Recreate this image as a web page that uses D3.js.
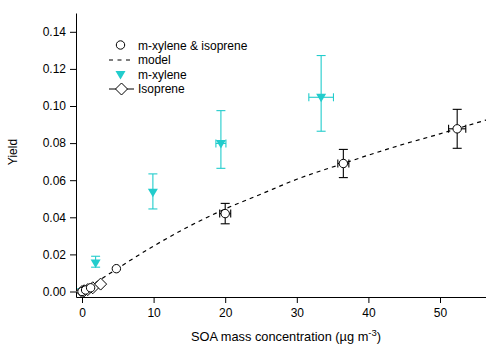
<!DOCTYPE html>
<html><head><meta charset="utf-8">
<script src="https://cdn.jsdelivr.net/npm/d3@7"></script>
<style>body{margin:0;background:#fff}svg{display:block;font-family:"Liberation Sans",Arial,sans-serif}</style>
</head><body>
<svg id="c" width="486" height="346"></svg>
<script>
// combined m-xylene & isoprene
const mixX = [0, 0.5, 1.2, 4.8, 20.0, 36.5, 52.4];
const mixY = [0, 0.0008, 0.002, 0.0123, 0.042, 0.069, 0.0877];
const mixYErr = [0, 0, 0, 0, 0.0055, 0.0076, 0.0105];
const mixXErr = [0, 0, 0, 0, 0.77, 0.77, 1.2];
// m-xylene
const mxX = [0, 1.9, 9.9, 19.4, 33.4];
const mxY = [0, 0.0153, 0.0535, 0.0798, 0.1047];
const mxYLo = [0, 0.0131, 0.0445, 0.0664, 0.0864];
const mxYHi = [0, 0.019, 0.0634, 0.0975, 0.1272];
const mxXErr = [0, 0, 0, 0.7, 1.72];
// isoprene
const isoX = [0, 0.3, 0.8, 1.5, 2.6];
const isoY = [0, 0.0004, 0.001, 0.002, 0.004];
// model curve
const modelX = [0, 2, 5, 10, 15, 20, 25, 30, 36.5, 40, 45, 50, 52.4, 56.5];
const modelY = [0, 0.005, 0.0125, 0.0245, 0.0352, 0.0445, 0.0525, 0.0605, 0.069, 0.0735, 0.0795, 0.085, 0.0878, 0.0925];
const xTicks = [0, 10, 20, 30, 40, 50];
const yTicks = [0, 0.02, 0.04, 0.06, 0.08, 0.10, 0.12, 0.14];
const cyan = "#22cccc";

const svg = d3.select("#c");
const x0 = d3.scaleLinear().domain([0, 50]).range([82, 440]);
const y0 = d3.scaleLinear().domain([0, 0.14]).range([291.5, 31.8]);
const L = 76, R = 486, B = 297, T = 13;
const x = d3.scaleLinear().domain([x0.invert(L), x0.invert(R)]).range([L, R]);
const y = d3.scaleLinear().domain([y0.invert(B), y0.invert(T)]).range([B, T]);

svg.append("defs").append("clipPath").attr("id","clip")
  .append("rect").attr("x", L).attr("y", T).attr("width", R - L).attr("height", B - T);

const xAxis = svg.append("g").attr("transform", `translate(0,${B})`)
  .call(d3.axisBottom(x).tickValues(xTicks).tickFormat(d3.format("d")).tickSize(6).tickPadding(5).tickSizeOuter(0));
const yAxis = svg.append("g").attr("transform", `translate(${L},0)`)
  .call(d3.axisLeft(y).tickValues(yTicks).tickFormat(d3.format(".2f")).tickSize(6).tickPadding(4).tickSizeOuter(0));
[xAxis, yAxis].forEach(g => {
  g.selectAll("text").attr("font-size", 12).attr("fill", "#000").attr("font-family", '"Liberation Sans",Arial,sans-serif');
  g.selectAll("line,path").attr("stroke", "#000");
});

svg.append("text").attr("transform", `translate(17,152) rotate(-90)`).attr("text-anchor", "middle")
  .attr("font-size", 12).text("Yield");
const xt = svg.append("text").attr("x", 286).attr("y", 341).attr("text-anchor", "middle").attr("font-size", 12.8);
xt.append("tspan").text("SOA mass concentration (\u00b5g m");
xt.append("tspan").attr("font-size", 9.5).attr("dy", -5).text("-3");
xt.append("tspan").attr("dy", 5).text(")");

const plot = svg.append("g").attr("clip-path", "url(#clip)");

// model
plot.append("path").datum(modelX.map((d, i) => [d, modelY[i]]))
  .attr("d", d3.line().x(d => x(d[0])).y(d => y(d[1])).curve(d3.curveMonotoneX))
  .attr("fill", "none").attr("stroke", "#000").attr("stroke-width", 1.2).attr("stroke-dasharray", "4,4");

function errBars(g, xs, ys, lo, hi, xe, color) {
  xs.forEach((xv, i) => {
    if (hi[i] > lo[i]) {
      g.append("line").attr("x1", x(xv)).attr("x2", x(xv)).attr("y1", y(lo[i])).attr("y2", y(hi[i])).attr("stroke", color).attr("stroke-width", 1.1);
      [lo[i], hi[i]].forEach(v => g.append("line").attr("x1", x(xv) - 4.5).attr("x2", x(xv) + 4.5).attr("y1", y(v)).attr("y2", y(v)).attr("stroke", color).attr("stroke-width", 1.1));
    }
    if (xe[i] > 0) {
      g.append("line").attr("x1", x(xv - xe[i])).attr("x2", x(xv + xe[i])).attr("y1", y(ys[i])).attr("y2", y(ys[i])).attr("stroke", color).attr("stroke-width", 1.1);
      [xv - xe[i], xv + xe[i]].forEach(v => g.append("line").attr("x1", x(v)).attr("x2", x(v)).attr("y1", y(ys[i]) - 4).attr("y2", y(ys[i]) + 4).attr("stroke", color).attr("stroke-width", 1.1));
    }
  });
}

// m-xylene
errBars(plot, mxX, mxY, mxYLo, mxYHi, mxXErr, cyan);
const tri = "M-5,-3.5L5,-3.5L0,5Z";
plot.selectAll(".tri").data(mxX).join("path").attr("d", tri)
  .attr("transform", (d, i) => `translate(${x(d)},${y(mxY[i])})`).attr("fill", cyan);

// isoprene
plot.append("path").datum(isoX.map((d, i) => [d, isoY[i]]))
  .attr("d", d3.line().x(d => x(d[0])).y(d => y(d[1])))
  .attr("fill", "none").attr("stroke", "#000").attr("stroke-width", 1);
const dia = "M0,-6L6,0L0,6L-6,0Z";
plot.selectAll(".dia").data(isoX).join("path").attr("d", dia)
  .attr("transform", (d, i) => `translate(${x(d)},${y(isoY[i])})`)
  .attr("fill", "#fff").attr("stroke", "#000").attr("stroke-width", 1);

// mix
errBars(plot, mixX, mixY, mixY.map((d, i) => d - mixYErr[i]), mixY.map((d, i) => d + mixYErr[i]), mixXErr, "#000");
plot.selectAll(".circ").data(mixX).join("circle")
  .attr("cx", d => x(d)).attr("cy", (d, i) => y(mixY[i])).attr("r", 4.2)
  .attr("fill", "#fff").attr("stroke", "#000").attr("stroke-width", 1);

// legend
const lg = svg.append("g").attr("font-size", 12);
lg.append("circle").attr("cx", 120.5).attr("cy", 45).attr("r", 4.2).attr("fill", "#fff").attr("stroke", "#000");
lg.append("text").attr("x", 138).attr("y", 49.5).text("m-xylene & isoprene");
lg.append("line").attr("x1", 109).attr("x2", 134).attr("y1", 60).attr("y2", 60).attr("stroke", "#000").attr("stroke-width", 1.2).attr("stroke-dasharray", "4,4.5");
lg.append("text").attr("x", 138).attr("y", 64).text("model");
lg.append("path").attr("d", tri).attr("transform", "translate(120.5,74.5)").attr("fill", cyan);
lg.append("text").attr("x", 138).attr("y", 78.5).text("m-xylene");
lg.append("line").attr("x1", 109).attr("x2", 134).attr("y1", 89).attr("y2", 89).attr("stroke", "#000");
lg.append("path").attr("d", dia).attr("transform", "translate(121.5,89)").attr("fill", "#fff").attr("stroke", "#000");
lg.append("text").attr("x", 138).attr("y", 93).text("Isoprene");
</script>
</body></html>
